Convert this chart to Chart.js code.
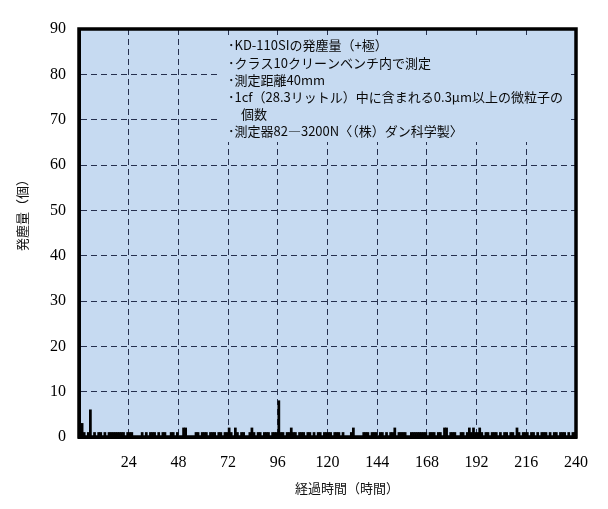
<!DOCTYPE html>
<html><head><meta charset="utf-8">
<script src="https://cdn.jsdelivr.net/npm/chart.js@4"></script>
<style>html,body{margin:0;padding:0;background:#fff}#wrap{width:608px;height:509px}</style>
</head><body><div id="wrap"><canvas id="c" width="608" height="509"></canvas></div>
<script>
// Elapsed-hour axis range and tick step (hours)
const xMin = 0, xMax = 240, xStep = 24;
// Particle count axis range and tick step
const yMin = 0, yMax = 90, yStep = 10;
// Particle counts per hour (hour 0 .. 239)
const particleCounts = [
  3,3,1,0,1,6,0,1,0,1,1,0,1,0,1,1,1,1,1,1,1,1,0,1,
  1,1,0,0,0,0,1,0,1,0,1,1,1,0,1,0,1,1,0,0,1,1,0,1,
  0,0,2,2,0,0,0,0,1,1,0,1,1,1,0,1,1,1,0,1,1,0,1,1,
  2,1,0,2,1,0,1,1,0,0,1,2,1,0,1,1,0,1,1,1,0,1,1,1,
  8,1,1,0,1,1,2,1,1,0,1,1,1,0,1,1,0,1,0,1,1,0,1,1,
  1,1,0,1,1,1,0,1,0,0,0,1,2,0,0,0,0,1,1,1,0,1,1,1,
  0,1,1,0,1,0,1,1,2,0,1,1,1,1,0,0,1,1,1,1,1,1,1,1,
  0,1,1,1,0,1,1,0,2,2,0,1,1,1,0,0,1,1,0,1,2,1,2,1,
  1,2,1,0,1,1,0,1,1,1,0,1,0,1,1,0,1,1,0,2,1,0,1,1,
  1,0,1,1,0,1,0,1,1,1,0,1,0,1,1,0,1,1,1,0,1,0,1,1
];
const noteLines = [
  '･KD-110SIの発塵量（+極）',
  '･クラス10クリーンベンチ内で測定',
  '･測定距離40mm',
  '･1cf（28.3リットル）中に含まれる0.3μm以上の微粒子の',
  '　個数',
  '･測定器82―3200N〈（株）ダン科学製〉'
];
const yTitle = '発塵量（個）';
const xTitle = '経過時間（時間）';

const BG = '#c6daf1';
const JP = '"Noto Sans CJK JP", "Noto Sans", sans-serif';
const SERIF = '"Liberation Serif", "DejaVu Serif", serif';

const decor = {
  id: 'decor',
  beforeDraw(chart) {
    const {ctx, chartArea: a} = chart;
    ctx.save();
    ctx.fillStyle = '#fff';
    ctx.fillRect(0, 0, chart.width, chart.height);
    ctx.fillStyle = BG;
    ctx.fillRect(a.left, a.top, a.right - a.left, a.bottom - a.top);
    ctx.restore();
  },
  afterDraw(chart) {
    const {ctx, chartArea: a} = chart;
    ctx.save();
    // note box covering the grid
    ctx.fillStyle = BG;
    ctx.fillRect(218, 36, 350, 106);
    ctx.fillStyle = '#0a0a0a';
    ctx.font = '13px ' + JP;
    ctx.textBaseline = 'middle';
    ctx.textAlign = 'left';
    noteLines.forEach((t, i) => ctx.fillText(t, 228, 45.5 + i * 17.1));
    // frame
    ctx.strokeStyle = '#000';
    ctx.lineWidth = 3.5;
    ctx.strokeRect(a.left, a.top, a.right - a.left, a.bottom - a.top);
    // axis titles
    ctx.font = '13px ' + JP;
    ctx.textAlign = 'center';
    ctx.fillStyle = '#111';
    ctx.fillText(xTitle, 347, 488);
    ctx.translate(22, 212);
    ctx.rotate(-Math.PI / 2);
    ctx.fillText(yTitle, 0, 0);
    ctx.restore();
  }
};

new Chart(document.getElementById('c'), {
  type: 'bar',
  data: {
    datasets: [{
      data: particleCounts.map((v, i) => ({x: i + 0.5, y: v})),
      backgroundColor: '#000',
      borderWidth: 0,
      barPercentage: 1,
      categoryPercentage: 1,
      grouped: false
    }]
  },
  options: {
    responsive: false,
    devicePixelRatio: 1,
    animation: false,
    events: [],
    layout: {padding: {left: 0, right: 32, top: 29, bottom: 0}},
    plugins: {legend: {display: false}, tooltip: {enabled: false}},
    scales: {
      x: {
        type: 'linear', min: xMin, max: xMax, offset: false,
        afterFit(s) { s.height = 72; },
        ticks: {stepSize: xStep, color: '#000', padding: 16,
          font: {family: SERIF, size: 16},
          callback: v => v === 0 ? '' : v},
        grid: {color: '#26304e', lineWidth: 1, drawTicks: false, offset: false},
        border: {display: true, color: '#000', width: 3, dash: [6, 4]}
      },
      y: {
        min: yMin, max: yMax,
        afterFit(s) { s.width = 79; },
        ticks: {stepSize: yStep, color: '#000', padding: 13,
          font: {family: SERIF, size: 16}},
        grid: {color: '#26304e', lineWidth: 1, drawTicks: false},
        border: {display: true, color: '#000', width: 3, dash: [6, 4]}
      }
    }
  },
  plugins: [decor]
});
</script></body></html>
